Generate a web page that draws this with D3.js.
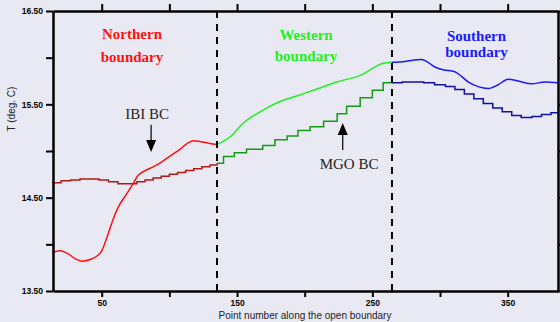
<!DOCTYPE html>
<html>
<head>
<meta charset="utf-8">
<script src="https://cdn.jsdelivr.net/npm/d3@7"></script>
<style>
  body { margin: 0; background: #e9e9f3; }
  svg { display: block; }
  .axis path, .axis line { stroke: #000; }
  .axis text { font-family: "Liberation Sans", Arial, sans-serif; font-weight: bold; font-size: 8.5px; fill: #000; }
</style>
</head>
<body>
<svg id="chart" width="560" height="322"></svg>
<script>
// x positions of the dashed boundary separators
const boundaries = [135.2, 264.5];

// model temperature (smooth lines), [point, T]
const northModel = [[13.3,13.91],[19,13.93],[25,13.90],[30,13.85],[36,13.82],[42,13.84],[47,13.88],[50,13.93],
  [54,14.08],[58,14.25],[63,14.42],[68,14.53],[72,14.62],[77,14.74],[82,14.79],[88,14.83],[95,14.89],
  [102,14.96],[108,15.02],[113,15.08],[118,15.11],[123,15.10],[130,15.08],[135.2,15.07]];
const westModel = [[135.2,15.07],[144.8,15.15],[154.7,15.30],[167,15.42],[181.8,15.53],[194.1,15.59],
  [206.4,15.65],[223.7,15.74],[241,15.81],[258.1,15.94],[264.5,15.95]];
const southModel = [[264.5,15.95],[274.1,15.96],[286.3,15.98],[291.2,15.95],[296.2,15.90],[302.3,15.87],
  [310.9,15.85],[315.9,15.80],[320.8,15.74],[328.2,15.69],[335.6,15.67],[343,15.71],[350.4,15.77],
  [357.8,15.75],[367.7,15.72],[377.5,15.74],[387.4,15.73]];

// boundary condition temperature (stepped lines), [point, T]
const northBC = [[13.3,14.66],[20,14.68],[27,14.69],[34,14.70],[41,14.70],[48,14.69],[55,14.67],[62,14.65],
  [69,14.65],[76,14.67],[82,14.69],[88,14.71],[94,14.73],[100,14.75],[106,14.77],[112,14.79],[118,14.81],
  [124,14.83],[130,14.85],[135.2,14.87]];
const westBC = [[135.2,14.87],[140,14.94],[148,14.98],[157,15.02],[169,15.06],[178,15.12],[187,15.16],
  [195,15.22],[204,15.26],[214,15.32],[224,15.40],[231,15.48],[241,15.57],[250,15.65],[258,15.73],[264.5,15.73]];
const southBC = [[264.5,15.73],[272,15.74],[280,15.74],[288,15.73],[296,15.71],[304,15.69],[311,15.66],
  [318,15.61],[325,15.56],[332,15.51],[339,15.46],[346,15.42],[353,15.38],[360,15.36],[368,15.37],
  [375,15.39],[382,15.41],[387.4,15.42]];

const xTicks = [50, 100, 150, 200, 250, 300, 350];
const xLabels = [50, 150, 250, 350];
const yTicks = [13.5, 14, 14.5, 15, 15.5, 16, 16.5];
const yLabels = [13.5, 14.5, 15.5, 16.5];

const m = { left: 53, right: 558, top: 11, bottom: 291 };
const svg = d3.select("#chart");

const x = d3.scaleLinear().domain([14, 387.2]).range([m.left, m.right]);
const y = d3.scaleLinear().domain([13.5, 16.5]).range([m.bottom, m.top]);

// lines
const smooth = d3.line().x(d => x(d[0])).y(d => y(d[1])).curve(d3.curveMonotoneX);
const stepped = d3.line().x(d => x(d[0])).y(d => y(d[1])).curve(d3.curveStepAfter);

const series = [
  { data: northBC, gen: stepped, color: "#b01818" },
  { data: westBC, gen: stepped, color: "#149a14" },
  { data: southBC, gen: stepped, color: "#1010a8" },
  { data: northModel, gen: smooth, color: "#ff1010" },
  { data: westModel, gen: smooth, color: "#22ee22" },
  { data: southModel, gen: smooth, color: "#1a1aff" }
];

svg.selectAll("path.series")
  .data(series)
  .enter()
  .append("path")
  .attr("class", "series")
  .attr("fill", "none")
  .attr("stroke", d => d.color)
  .attr("stroke-width", 1.5)
  .attr("d", d => d.gen(d.data));

// dashed separators
svg.selectAll("line.sep")
  .data(boundaries)
  .enter()
  .append("line")
  .attr("class", "sep")
  .attr("x1", d => x(d)).attr("x2", d => x(d))
  .attr("y1", m.top).attr("y2", m.bottom)
  .attr("stroke", "#000")
  .attr("stroke-width", 2)
  .attr("stroke-dasharray", "7,6");

// axes
const fmt = v => v.toFixed(2);
svg.append("g").attr("class", "axis").attr("transform", `translate(0,${m.bottom})`)
  .call(d3.axisBottom(x).tickValues(xTicks).tickSize(6).tickSizeOuter(0)
    .tickFormat(d => xLabels.includes(d) ? d : ""));
svg.append("g").attr("class", "axis").attr("transform", `translate(0,${m.top})`)
  .call(d3.axisTop(x).tickValues(xTicks).tickSize(7).tickSizeOuter(0).tickFormat(""));
svg.append("g").attr("class", "axis").attr("transform", `translate(${m.left},0)`)
  .call(d3.axisLeft(y).tickValues(yTicks).tickSize(7).tickSizeOuter(0)
    .tickFormat(d => yLabels.includes(d) ? fmt(d) : ""));
svg.append("g").attr("class", "axis").attr("transform", `translate(${m.right},0)`)
  .call(d3.axisRight(y).tickValues(yTicks).tickSize(7).tickSizeOuter(0).tickFormat(""));

svg.selectAll(".axis path.domain").attr("stroke-width", 2.5);
svg.selectAll(".axis .tick line").attr("stroke-width", 2);

// axis titles
const sans = "'Liberation Sans', Arial, sans-serif";
svg.append("text")
  .attr("x", 305).attr("y", 319)
  .attr("text-anchor", "middle")
  .style("font-family", sans)
  .style("font-size", "10px").attr("fill", "#222")
  .text("Point number along the open boundary");
svg.append("text")
  .attr("transform", `translate(15,${y(15.45)}) rotate(-90)`)
  .attr("text-anchor", "middle")
  .style("font-family", sans)
  .style("font-size", "10px").attr("fill", "#222")
  .text("T (deg. C)");

// region labels
const serif = "'Liberation Serif', 'Times New Roman', serif";
const regions = [
  { lines: ["Northern", "boundary"], at: 72.4, ys: [39, 62], color: "#ff1010" },
  { lines: ["Western", "boundary"], at: 201, ys: [40, 61], color: "#22ee22" },
  { lines: ["Southern", "boundary"], at: 327, ys: [41, 57], color: "#1a1aff" }
];
regions.forEach(r => {
  r.lines.forEach((t, i) => {
    svg.append("text")
      .attr("x", x(r.at)).attr("y", r.ys[i])
      .attr("text-anchor", "middle")
      .style("font-family", serif)
      .style("font-weight", "bold").style("font-size", "15px")
      .attr("fill", r.color)
      .text(t);
  });
});

// annotations with arrows
function arrow(px, yFrom, yTip) {
  const dir = yTip > yFrom ? 1 : -1;
  const headBase = yTip - dir * 12;
  svg.append("line")
    .attr("x1", px).attr("x2", px).attr("y1", yFrom).attr("y2", headBase)
    .attr("stroke", "#111").attr("stroke-width", 1.3);
  svg.append("path")
    .attr("d", `M${px - 5},${headBase}L${px + 5},${headBase}L${px},${yTip}Z`)
    .attr("fill", "#000");
}
svg.append("text").attr("x", x(83.5)).attr("y", y(15.34)).attr("text-anchor", "middle")
  .style("font-family", serif).style("font-size", "15px").attr("fill", "#222").text("IBI BC");
arrow(x(86.5), y(15.28), y(14.99));
svg.append("text").attr("x", x(232.8)).attr("y", y(14.81)).attr("text-anchor", "middle")
  .style("font-family", serif).style("font-size", "15px").attr("fill", "#222").text("MGO BC");
arrow(x(228.1), y(15.01), y(15.30));
</script>
</body>
</html>
